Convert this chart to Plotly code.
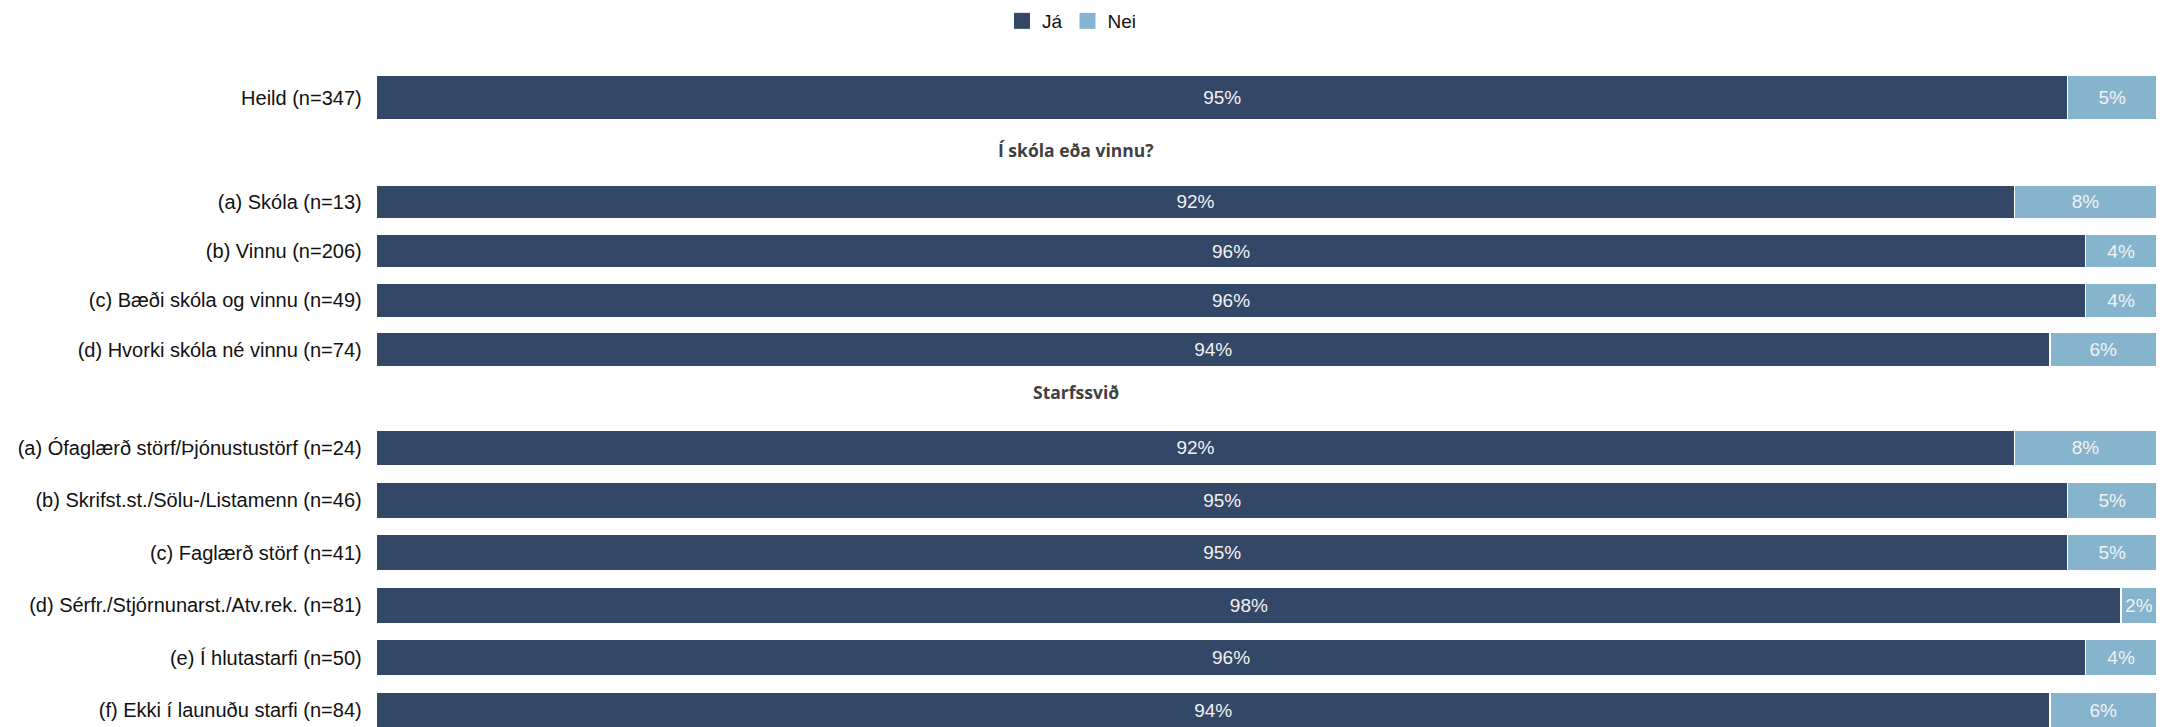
import plotly.graph_objects as go
from plotly.subplots import make_subplots

# Data per block (top to bottom)
heild_labels = ["Heild (n=347)"]
heild_ja = [95]
heild_nei = [5]

skoli_title = "Í skóla eða vinnu?"
skoli_labels = [
    "(a) Skóla (n=13)",
    "(b) Vinnu (n=206)",
    "(c) Bæði skóla og vinnu (n=49)",
    "(d) Hvorki skóla né vinnu (n=74)",
]
skoli_ja = [92, 96, 96, 94]
skoli_nei = [8, 4, 4, 6]

starf_title = "Starfssvið"
starf_labels = [
    "(a) Ófaglærð störf/Þjónustustörf (n=24)",
    "(b) Skrifst.st./Sölu-/Listamenn (n=46)",
    "(c) Faglærð störf (n=41)",
    "(d) Sérfr./Stjórnunarst./Atv.rek. (n=81)",
    "(e) Í hlutastarfi (n=50)",
    "(f) Ekki í launuðu starfi (n=84)",
]
starf_ja = [92, 95, 95, 98, 96, 94]
starf_nei = [8, 5, 5, 2, 4, 6]

JA_COLOR = "#334766"
NEI_COLOR = "#86b4cc"

# page is 2164x727 but the html body has an 8px margin
PAGE_OFF = 8
W, H = 2164 - PAGE_OFF, 727 - PAGE_OFF

blocks = [
    (heild_labels, heild_ja, heild_nei),
    (skoli_labels, skoli_ja, skoli_nei),
    (starf_labels, starf_ja, starf_nei),
]

fig = make_subplots(rows=3, cols=1, shared_xaxes=True)

for i, (labels, ja, nei) in enumerate(blocks, start=1):
    for name, vals, color in (("Já", ja, JA_COLOR), ("Nei", nei, NEI_COLOR)):
        fig.add_trace(
            go.Bar(
                y=labels, x=vals, name=name, orientation="h",
                marker=dict(color=color, line=dict(color="white", width=1.5)),
                text=vals, texttemplate="%{x:.0f}%",
                textposition="inside", insidetextanchor="middle",
                constraintext="none",
                textfont=dict(family="Liberation Sans, Arial", size=19, color="#f2f2f2"),
                legendgroup=name, showlegend=False,
                hoverinfo="skip",
            ),
            row=i, col=1,
        )

# legend entries with bigger swatches than the default bar legend
for name, color in (("Já", JA_COLOR), ("Nei", NEI_COLOR)):
    fig.add_trace(
        go.Scatter(x=[None], y=[None], mode="markers", name=name, legendgroup=name,
                   marker=dict(symbol="square", size=17, color=color)),
        row=1, col=1,
    )

# helpers: page pixel -> paper fraction
def px(x):
    return (x - PAGE_OFF) / W

def py(y):
    return 1 - (y - PAGE_OFF) / H

def dom(top_px, bottom_px):
    return [max(0, py(bottom_px)), py(top_px)]

x_dom = [px(376.7), px(2156.7)]
for i in (1, 2, 3):
    fig.update_xaxes(range=[0, 100], domain=x_dom, visible=False, row=i, col=1)

tick_font = dict(family="Liberation Sans, Arial", size=20, color="#111111")
common_y = dict(showgrid=False, zeroline=False, showline=False, ticks="",
                tickfont=tick_font, ticklabelstandoff=14, type="category")
fig.update_yaxes(domain=dom(64.75, 130.25), range=[0.5, -0.5], row=1, col=1, **common_y)
fig.update_yaxes(domain=dom(177.15, 374.35), range=[3.5, -0.5], row=2, col=1, **common_y)
# last block runs off the bottom edge of the page
fig.update_yaxes(domain=dom(421.8, 727), range=[-0.5 + (727 - 421.8) / 52.4, -0.5],
                 row=3, col=1, **common_y)

title_font = dict(family="Open Sans", size=17.5, color="#404040")
for txt, ypx in ((skoli_title, 150), (starf_title, 392)):
    fig.add_annotation(text=f"<b>{txt}</b>", x=px(1076), y=py(ypx),
                       xref="paper", yref="paper", showarrow=False,
                       xanchor="center", yanchor="middle", font=title_font)

fig.update_layout(
    width=W, height=H,
    barmode="stack", bargap=0.31,
    plot_bgcolor="white", paper_bgcolor="white",
    margin=dict(l=0, r=0, t=0, b=0, autoexpand=False),
    legend=dict(orientation="h", x=px(1072), xanchor="center",
                y=py(21), yanchor="middle", itemsizing="trace",
                font=dict(family="Liberation Sans, Arial", size=19, color="#111111"),
                traceorder="normal"),
)

fig.write_html("out.html")
